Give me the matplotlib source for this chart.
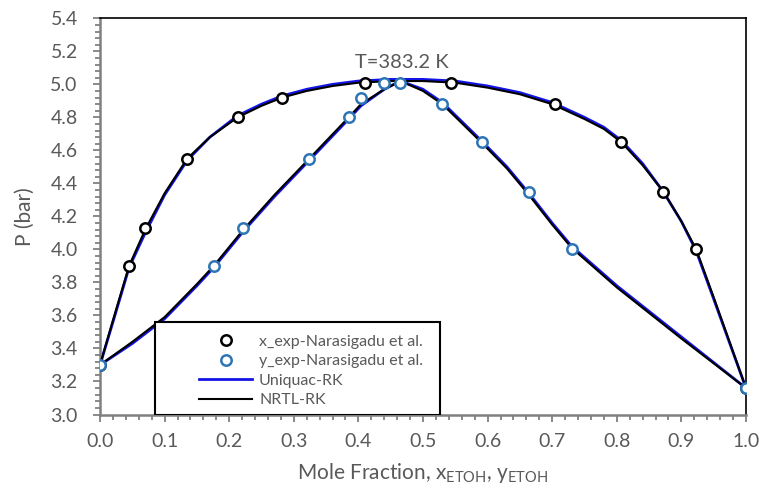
import matplotlib
matplotlib.use("Agg")
import matplotlib.pyplot as plt
from matplotlib.patches import Rectangle
from matplotlib.ticker import MultipleLocator

plt.rcParams['font.family'] = ['Lato', 'DejaVu Sans']
plt.rcParams['mathtext.fontset'] = 'custom'
plt.rcParams['mathtext.rm'] = 'Lato'

# Experimental data (Narasigadu et al.), T = 383.2 K
x_exp = [0.0, 0.045, 0.070, 0.135, 0.213, 0.282, 0.411, 0.544, 0.704, 0.807, 0.872, 0.923, 1.0]
P_x_exp = [3.30, 3.90, 4.13, 4.55, 4.80, 4.92, 5.01, 5.01, 4.88, 4.65, 4.35, 4.00, 3.16]
y_exp = [0.0, 0.176, 0.222, 0.324, 0.385, 0.404, 0.439, 0.465, 0.530, 0.591, 0.664, 0.730, 1.0]
P_y_exp = [3.30, 3.90, 4.13, 4.55, 4.80, 4.92, 5.01, 5.01, 4.88, 4.65, 4.35, 4.00, 3.16]

# Model curves
x_bub = [0.0, 0.02, 0.045, 0.07, 0.10, 0.135, 0.17, 0.213, 0.25, 0.282, 0.32, 0.36,
         0.40, 0.45, 0.50, 0.55, 0.60, 0.65, 0.70, 0.75, 0.78, 0.807, 0.84, 0.872,
         0.90, 0.923, 0.95, 1.0]
P_bub_nrtl = [3.30, 3.57, 3.90, 4.12, 4.34, 4.55, 4.68, 4.80, 4.87, 4.92, 4.96, 4.99,
              5.01, 5.02, 5.02, 5.01, 4.98, 4.94, 4.88, 4.79, 4.73, 4.65, 4.51, 4.35,
              4.17, 4.00, 3.71, 3.16]
P_bub_uniq = [3.30, 3.56, 3.89, 4.10, 4.33, 4.54, 4.68, 4.81, 4.88, 4.93, 4.97, 5.00,
              5.02, 5.03, 5.03, 5.02, 4.99, 4.95, 4.89, 4.80, 4.74, 4.66, 4.52, 4.35,
              4.17, 3.99, 3.70, 3.16]

y_dew = [0.0, 0.05, 0.10, 0.15, 0.176, 0.222, 0.27, 0.324, 0.385, 0.404, 0.44, 0.465,
         0.50, 0.53, 0.59, 0.63, 0.664, 0.70, 0.73, 0.80, 0.90, 1.0]
P_dew_nrtl = [3.30, 3.44, 3.59, 3.79, 3.90, 4.12, 4.33, 4.55, 4.80, 4.88, 4.97, 5.02,
              4.96, 4.88, 4.65, 4.49, 4.33, 4.15, 4.01, 3.77, 3.46, 3.16]
P_dew_uniq = [3.30, 3.43, 3.58, 3.78, 3.89, 4.11, 4.32, 4.54, 4.79, 4.87, 4.97, 5.02,
              4.97, 4.89, 4.66, 4.50, 4.34, 4.16, 4.02, 3.78, 3.47, 3.16]

gray = '#595959'
fig, ax = plt.subplots(figsize=(7.64, 4.91), dpi=100)
fig.subplots_adjust(left=0.1309, right=0.9764, bottom=0.1558, top=0.9627)

ax.plot(x_bub, P_bub_uniq, color='#1414E6', lw=2.0, label='Uniquac-RK', zorder=2)
ax.plot(y_dew, P_dew_uniq, color='#1414E6', lw=2.0, zorder=2)
ax.plot(x_bub, P_bub_nrtl, color='black', lw=1.5, label='NRTL-RK', zorder=3)
ax.plot(y_dew, P_dew_nrtl, color='black', lw=1.5, zorder=3)
ax.plot(x_exp, P_x_exp, 'o', ms=7.5, mfc='white', mec='black', mew=1.8,
        label='x_exp-Narasigadu et al.', zorder=4)
ax.plot(y_exp, P_y_exp, 'o', ms=7.5, mfc='white', mec='#2E75B6', mew=1.8,
        label='y_exp-Narasigadu et al.', zorder=5)

ax.text(0.394, 5.135, 'T=383.2 K', color=gray, fontsize=14.5, va='center', ha='left')

ax.set_xlim(0, 1.0)
ax.set_ylim(3.0, 5.4)
ax.xaxis.set_major_locator(MultipleLocator(0.1))
ax.xaxis.set_minor_locator(MultipleLocator(0.02))
ax.yaxis.set_major_locator(MultipleLocator(0.2))
ax.yaxis.set_minor_locator(MultipleLocator(0.04))
ax.xaxis.set_major_formatter(plt.FormatStrFormatter('%.1f'))
ax.yaxis.set_major_formatter(plt.FormatStrFormatter('%.1f'))

for side in ['left', 'bottom']:
    ax.spines[side].set_color('#808080')
    ax.spines[side].set_linewidth(1.8)
for side in ['top', 'right']:
    ax.spines[side].set_color('black')
    ax.spines[side].set_linewidth(1.2)
ax.tick_params(which='both', direction='out', color='#808080', width=1.3)
ax.tick_params(which='major', length=5, labelsize=14, labelcolor=gray)
ax.tick_params(which='minor', length=3.5)
ax.tick_params(axis='y', which='major', pad=11)
ax.tick_params(axis='x', which='major', pad=8)

ax.set_xlabel('Mole Fraction, x$_{\\mathregular{ETOH}}$, y$_{\\mathregular{ETOH}}$',
              fontsize=15, color=gray, labelpad=8)
ax.set_ylabel('P (bar)', fontsize=15, color=gray, labelpad=11)

# legend box
box = Rectangle((0.085, 0.0), 0.441, 0.234, transform=ax.transAxes,
                facecolor='white', edgecolor='black', lw=1.5, zorder=6)
ax.add_patch(box)
handles, labels = ax.get_legend_handles_labels()
order = [2, 3, 0, 1]
leg = ax.legend([handles[i] for i in order], [labels[i] for i in order],
                loc='upper left', bbox_to_anchor=(0.1362, 0.2300), frameon=False,
                fontsize=11.5, handlelength=3.3, handletextpad=0.45,
                labelspacing=0.33, borderpad=0.2, labelcolor=gray)
leg.set_zorder(7)

plt.savefig('out.png', dpi=100)
